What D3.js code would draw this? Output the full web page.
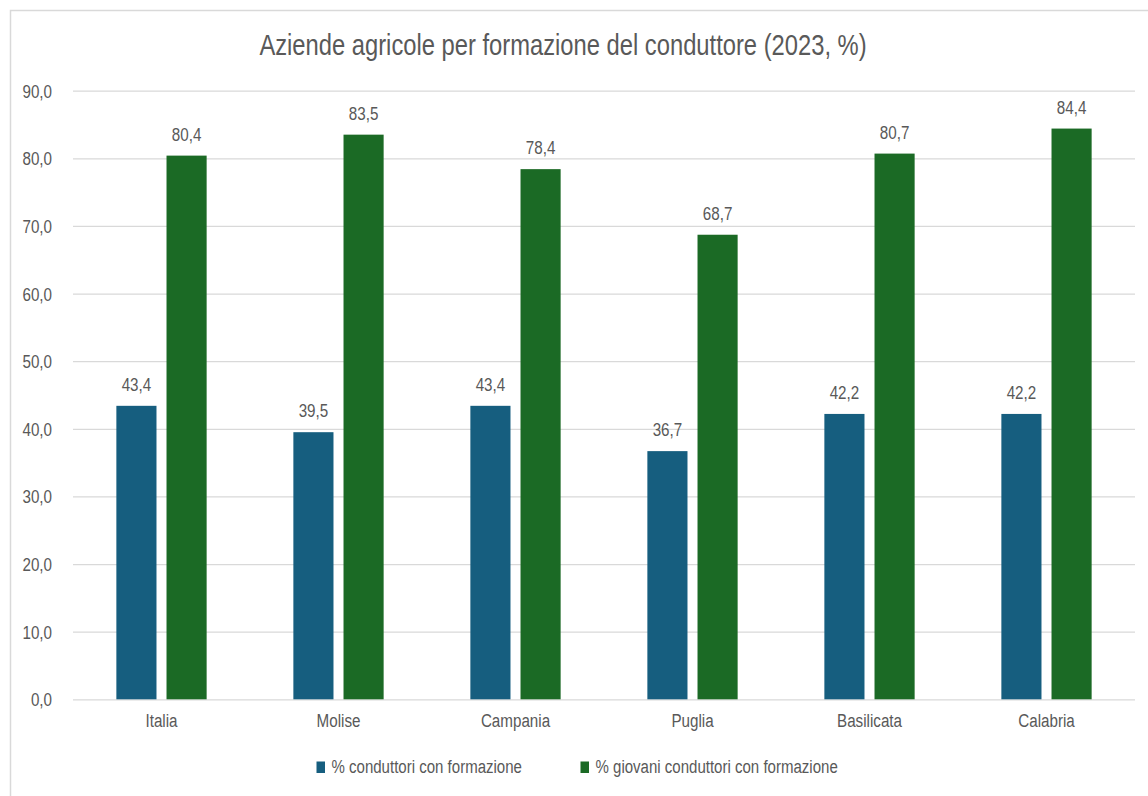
<!DOCTYPE html>
<html><head><meta charset="utf-8">
<script src="https://cdn.jsdelivr.net/npm/d3@7"></script>
<style>
html,body{margin:0;padding:0;background:#fff;}
svg text{font-family:"Liberation Sans Narrow","Arial Narrow","Liberation Sans",sans-serif;fill:#595959;}
</style></head><body>
<svg id="chart" width="1148" height="796"></svg>
<script>
const categories = ["Italia","Molise","Campania","Puglia","Basilicata","Calabria"];
const seriesNames = ["% conduttori con formazione","% giovani conduttori con formazione"];
const conduttori = [43.4,39.5,43.4,36.7,42.2,42.2];
const giovani = [80.4,83.5,78.4,68.7,80.7,84.4];
const yTicks = [0,10,20,30,40,50,60,70,80,90];
const title = "Aziende agricole per formazione del conduttore (2023, %)";
const colors = ["#165e7f","#1b6a25"];

const SX = 0.8; // horizontal condensation of text
const svg = d3.select("#chart");
const W=1148,H=796;
const plot = {left:73,right:1135,top:90.7,bottom:699.3};
const loc = d3.formatLocale({decimal:",",thousands:".",grouping:[3],currency:["","€"]});
const fmt = loc.format(".1f");

// outer border
svg.append("rect").attr("x",10.5).attr("y",10.5).attr("width",W).attr("height",H)
  .attr("fill","none").attr("stroke","#d9d9d9").attr("stroke-width",1.5);

const y = d3.scaleLinear().domain([0,90]).range([plot.bottom,plot.top]);
const x0 = d3.scaleBand().domain(categories).range([plot.left,plot.right]).paddingInner(0.49).paddingOuter(0.245);
const x1 = d3.scaleBand().domain([0,1]).range([0,x0.bandwidth()]).paddingInner(0.2);

// grid
const yAxis = d3.axisLeft(y).tickValues(yTicks).tickFormat(fmt).tickSize(-(plot.right-plot.left)).tickPadding(21);
const gy = svg.append("g").attr("transform",`translate(${plot.left},0)`).call(yAxis);
gy.select(".domain").remove();
gy.selectAll(".tick line").attr("stroke","#d9d9d9").attr("stroke-width",1.3);
gy.selectAll(".tick text").attr("font-size",19).attr("fill","#595959").attr("dy","0.34em")
  .attr("x",-21/SX).attr("transform",`scale(${SX},1)`);

// x axis labels
const xAxis = d3.axisBottom(x0).tickSize(0).tickPadding(14);
const gx = svg.append("g").attr("transform",`translate(0,${plot.bottom})`).call(xAxis);
gx.select(".domain").remove();
gx.selectAll(".tick text").attr("font-size",19).attr("fill","#595959").attr("transform",`scale(${SX},1)`);

const data = categories.map((c,i)=>({cat:c, vals:[conduttori[i],giovani[i]]}));
const groups = svg.append("g").selectAll("g").data(data).join("g")
  .attr("transform",d=>`translate(${x0(d.cat)},0)`);
groups.selectAll("rect").data(d=>d.vals.map((v,k)=>({v,k}))).join("rect")
  .attr("x",d=>x1(d.k)).attr("width",x1.bandwidth())
  .attr("y",d=>y(d.v)).attr("height",d=>plot.bottom-y(d.v))
  .attr("fill",d=>colors[d.k]);
groups.selectAll("text.lbl").data(d=>d.vals.map((v,k)=>({v,k}))).join("text")
  .attr("class","lbl")
  .attr("transform",d=>`translate(${x1(d.k)+x1.bandwidth()/2},${y(d.v)-15}) scale(${SX},1)`)
  .attr("text-anchor","middle").attr("font-size",19).text(d=>fmt(d.v));

// title
svg.append("text").attr("transform",`translate(563,55) scale(${SX*0.99},1)`).attr("text-anchor","middle")
  .attr("font-size",30).text(title);

// legend
const legX=[316.5,580.5];
const leg = svg.append("g").selectAll("g").data(seriesNames).join("g")
  .attr("transform",(d,i)=>`translate(${legX[i]},761.5)`);
leg.append("rect").attr("width",8.5).attr("height",11.5).attr("fill",(d,i)=>colors[i]);
leg.append("text").attr("transform",`translate(15,11.5) scale(0.835,1)`).attr("font-size",18).text(d=>d);
</script>
</body></html>
